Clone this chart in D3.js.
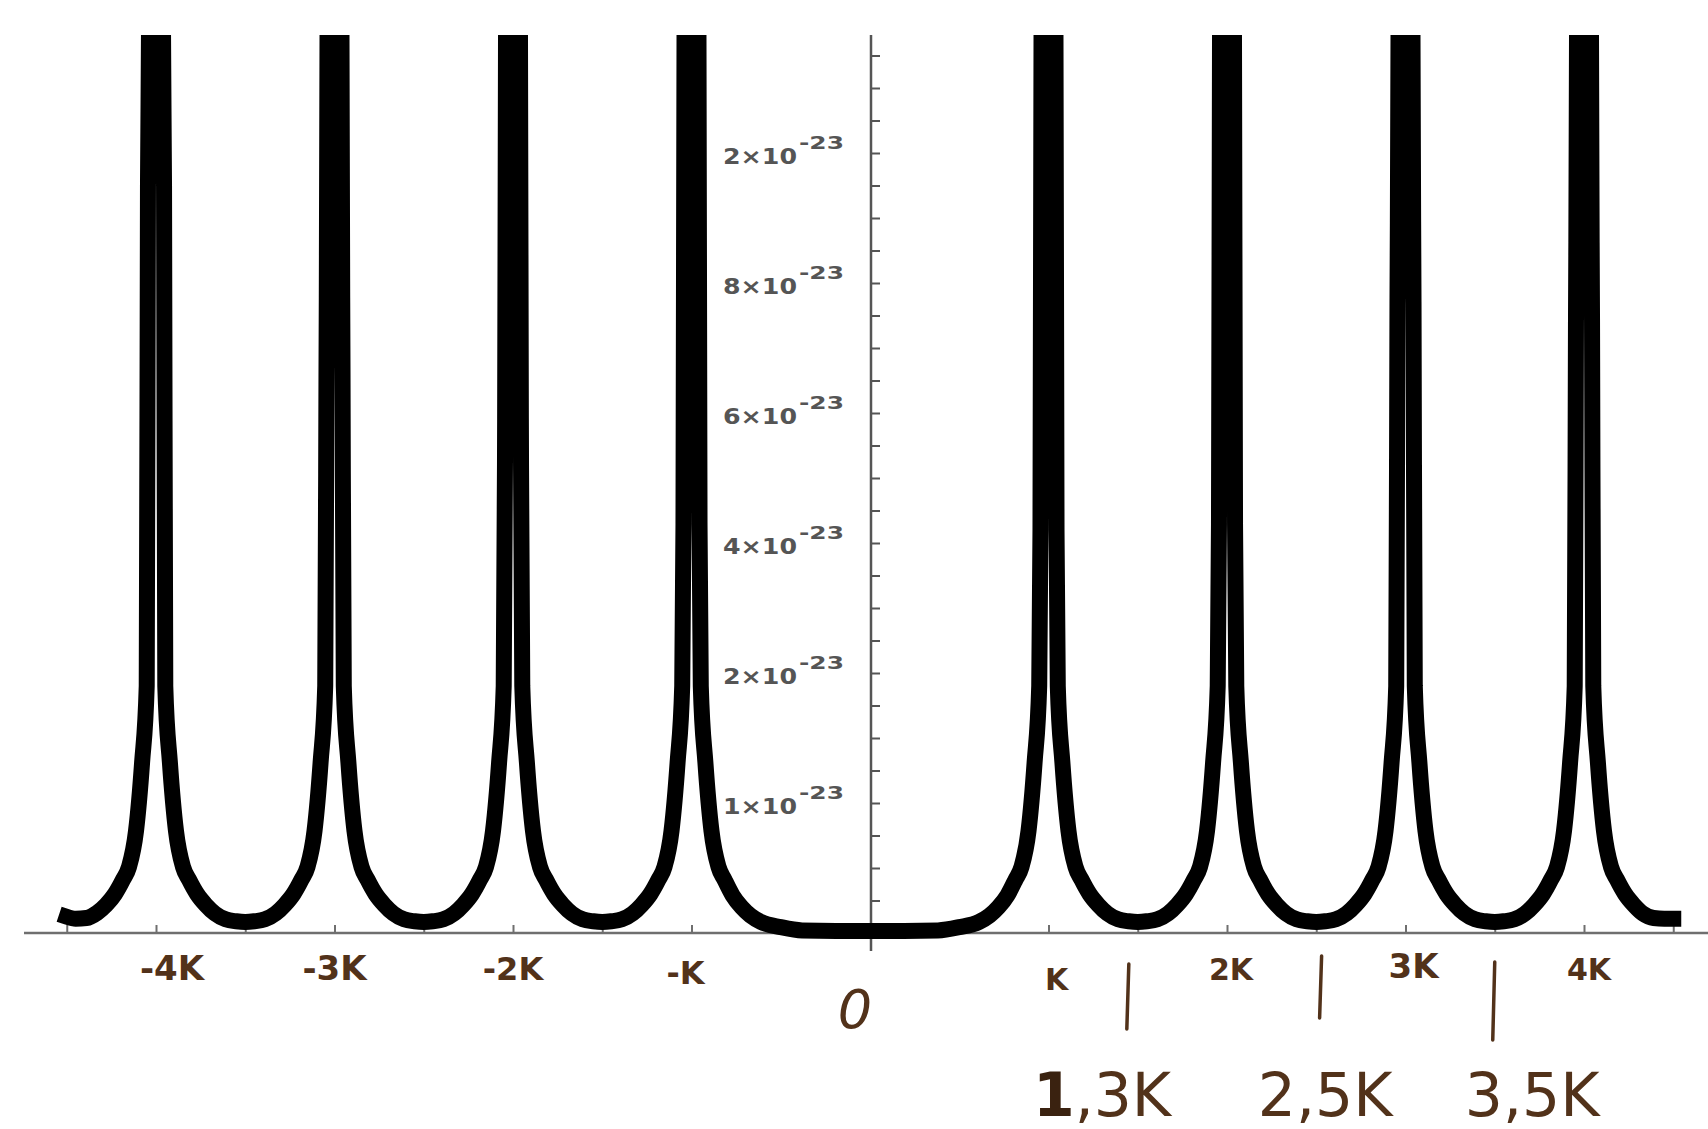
<!DOCTYPE html>
<html><head><meta charset="utf-8">
<script src="https://cdn.jsdelivr.net/npm/d3@7"></script>
<style>html,body{margin:0;padding:0;background:#fff;} svg{display:block;}</style>
</head><body>
<svg id="chart" width="1708" height="1129"></svg>
<script>
// x in units of K, y in units of 1e-24
const curve = [
[-4.5,0.25],[-4.45,0.22],[-4.39,0.23],[-4.33,0.31],[-4.28,0.43],[-4.23,0.60],[-4.185,0.82],[-4.151,1.02],[-4.112,1.57],[-4.078,2.62],[-4.052,3.8],[-4.045,11.5],[-4.039,14],[-4,300],[-3.961,14],[-3.955,11.5],[-3.948,3.8],[-3.922,2.62],[-3.888,1.57],[-3.849,1.02],[-3.815,0.82],[-3.77,0.60],[-3.72,0.43],[-3.67,0.30],[-3.61,0.21],[-3.55,0.18],[-3.5,0.17],
[-3.45,0.18],[-3.39,0.21],[-3.33,0.30],[-3.28,0.43],[-3.23,0.60],[-3.185,0.82],[-3.151,1.02],[-3.112,1.57],[-3.078,2.62],[-3.052,3.8],[-3.045,8.6],[-3.039,14],[-3,300],[-2.961,14],[-2.955,8.6],[-2.948,3.8],[-2.922,2.62],[-2.888,1.57],[-2.849,1.02],[-2.815,0.82],[-2.77,0.60],[-2.72,0.43],[-2.67,0.30],[-2.61,0.21],[-2.55,0.18],[-2.5,0.17],
[-2.45,0.18],[-2.39,0.21],[-2.33,0.30],[-2.28,0.43],[-2.23,0.60],[-2.185,0.82],[-2.151,1.02],[-2.112,1.57],[-2.078,2.62],[-2.052,3.8],[-2.045,7.2],[-2.039,14],[-2,300],[-1.961,14],[-1.955,7.2],[-1.948,3.8],[-1.922,2.62],[-1.888,1.57],[-1.849,1.02],[-1.815,0.82],[-1.77,0.60],[-1.72,0.43],[-1.67,0.30],[-1.61,0.21],[-1.55,0.18],[-1.5,0.17],
[-1.45,0.18],[-1.39,0.21],[-1.33,0.30],[-1.28,0.43],[-1.23,0.60],[-1.185,0.82],[-1.151,1.02],[-1.112,1.57],[-1.078,2.62],[-1.052,3.8],[-1.045,6.3],[-1.039,14],[-1,300],[-0.961,14],[-0.955,6.3],[-0.948,3.8],[-0.922,2.62],[-0.888,1.57],[-0.849,1.02],[-0.815,0.82],[-0.77,0.58],[-0.72,0.40],[-0.67,0.27],[-0.61,0.17],[-0.5,0.09],[-0.38,0.04],
[0,0.03],
[0.38,0.04],[0.5,0.09],[0.61,0.17],[0.67,0.27],[0.72,0.40],[0.77,0.58],[0.815,0.82],[0.849,1.02],[0.888,1.57],[0.922,2.62],[0.948,3.8],[0.955,6.2],[0.961,14],[1,300],[1.039,14],[1.045,6.2],[1.052,3.8],[1.078,2.62],[1.112,1.57],[1.151,1.02],[1.185,0.82],[1.23,0.60],[1.28,0.43],[1.33,0.30],[1.39,0.21],[1.45,0.18],[1.5,0.17],
[1.55,0.18],[1.61,0.21],[1.67,0.30],[1.72,0.43],[1.77,0.60],[1.815,0.82],[1.849,1.02],[1.888,1.57],[1.922,2.62],[1.948,3.8],[1.955,6.3],[1.961,14],[2,300],[2.039,14],[2.045,6.3],[2.052,3.8],[2.078,2.62],[2.112,1.57],[2.151,1.02],[2.185,0.82],[2.23,0.60],[2.28,0.43],[2.33,0.30],[2.39,0.21],[2.45,0.18],[2.5,0.17],
[2.55,0.18],[2.61,0.21],[2.67,0.30],[2.72,0.43],[2.77,0.60],[2.815,0.82],[2.849,1.02],[2.888,1.57],[2.922,2.62],[2.948,3.8],[2.955,9.7],[2.961,14],[3,300],[3.039,14],[3.045,9.7],[3.052,3.8],[3.078,2.62],[3.112,1.57],[3.151,1.02],[3.185,0.82],[3.23,0.60],[3.28,0.43],[3.33,0.30],[3.39,0.21],[3.45,0.18],[3.5,0.17],
[3.55,0.18],[3.61,0.21],[3.67,0.30],[3.72,0.43],[3.77,0.60],[3.815,0.82],[3.849,1.02],[3.888,1.57],[3.922,2.62],[3.948,3.8],[3.955,9.4],[3.961,14],[4,300],[4.039,14],[4.045,9.4],[4.052,3.8],[4.078,2.62],[4.112,1.57],[4.151,1.02],[4.185,0.82],[4.23,0.60],[4.28,0.43],[4.33,0.30],[4.39,0.23],[4.45,0.22],[4.5,0.22]
];
const xTickValues = [-4.5,-4,-3.5,-3,-2.5,-2,-1.5,-1,-0.5,0,0.5,1,1.5,2,2.5,3,3.5,4,4.5];
const xLabelValues = [-4,-3,-2,-1,0,1,2,3,4];
const xLabelTexts = ["-4K","-3K","-2K","-K","0","K","2K","3K","4K"];
const yMajorValues = [2,4,6,8,10,12];
const yLabelMantissa = ["1×10","2×10","4×10","6×10","8×10","2×10"];
const yLabelExponent = "-23";
const yTickValues = [0.5,1,1.5,2,2.5,3,3.5,4,4.5,5,5.5,6,6.5,7,7.5,8,8.5,9,9.5,10,10.5,11,11.5,12,12.5,13,13.5];
const markValues = [1.45, 2.53, 3.5];
const markLabelValues = [1.30, 2.55, 3.71];
const markLabelTexts = ["1,3K","2,5K","3,5K"];

const svg = d3.select("#chart");
const brown = "#52321a";
const x = d3.scaleLinear().domain([-4.5, 4.5]).range([870 - 4.5*178.5, 870 + 4.5*178.5]);
const y = d3.scaleLinear().domain([0, 2]).range([933, 803]);

svg.append("defs").append("clipPath").attr("id","clip")
  .append("rect").attr("x",0).attr("y",35).attr("width",1708).attr("height",1094);

// x axis line
svg.append("line").attr("x1",24).attr("x2",1708).attr("y1",y(0)).attr("y2",y(0))
  .attr("stroke","#6f6f6f").attr("stroke-width",2.5);
const xAxis = d3.axisTop(x).tickValues(xTickValues).tickSize(8).tickSizeOuter(0).tickFormat("");
const gx = svg.append("g").attr("transform",`translate(0,${y(0)})`).call(xAxis);
gx.select(".domain").remove();
gx.selectAll(".tick line").attr("stroke","#6f6f6f").attr("stroke-width",2);

// y axis line
svg.append("line").attr("x1",x(0)+1).attr("x2",x(0)+1).attr("y1",35).attr("y2",951)
  .attr("stroke","#555").attr("stroke-width",2.5);
const yAxis = d3.axisRight(y).tickValues(yTickValues).tickSize(9).tickSizeOuter(0).tickFormat("");
const gy = svg.append("g").attr("transform",`translate(${x(0)+1},0)`).call(yAxis);
gy.select(".domain").remove();
gy.selectAll(".tick line").attr("stroke","#555").attr("stroke-width",2);

// y labels
const yl = svg.append("g").attr("font-family","DejaVu Sans").attr("fill","#555");
yMajorValues.forEach((v,i)=>{
  yl.append("text").attr("x", x(0)-147).attr("y", y(v)+11)
    .attr("font-size",22).attr("font-weight","bold").attr("textLength",74).attr("lengthAdjust","spacingAndGlyphs")
    .text(yLabelMantissa[i]);
  yl.append("text").attr("x", x(0)-71).attr("y", y(v)-4)
    .attr("font-size",17).attr("font-weight","bold").attr("textLength",45).attr("lengthAdjust","spacingAndGlyphs")
    .text(yLabelExponent);
});

// x labels (handwritten style)
const xl = svg.append("g").attr("font-family","DejaVu Sans").attr("fill",brown).attr("text-anchor","middle");
const labelDx = [16,0,0,-6,-15,8,4,8,5];
const labelDy = [980,980,980,984,1028,990,980,978,980];
const labelSize = [34,34,32,32,54,30,30,34,30];
xLabelValues.forEach((v,i)=>{
  xl.append("text").attr("x", x(v)+labelDx[i]).attr("y", labelDy[i])
    .attr("font-size", labelSize[i])
    .attr("font-style", i===4 ? "italic" : "normal")
    .attr("font-weight", i===4 ? "normal" : "bold")
    .text(xLabelTexts[i]);
});

// annotation marks
const markTop = [964,956,962], markBot = [1029,1018,1040];
markValues.forEach((v,i)=>{
  svg.append("line").attr("x1",x(v)).attr("x2",x(v)-2).attr("y1",markTop[i]).attr("y2",markBot[i])
    .attr("stroke",brown).attr("stroke-width",3.5).attr("stroke-linecap","round");
});
markLabelValues.forEach((v,i)=>{
  const t = svg.append("text").attr("x",x(v)).attr("y",1116).attr("text-anchor","middle")
    .attr("font-family","DejaVu Sans").attr("font-size",60).attr("fill",brown);
  if (i === 0) {
    t.append("tspan").attr("font-weight","bold").attr("fill","#3a2210").text(markLabelTexts[i].charAt(0));
    t.append("tspan").text(markLabelTexts[i].slice(1));
  } else {
    t.text(markLabelTexts[i]);
  }
});

// curve
const line = d3.line().x(d=>x(d[0])).y(d=>y(d[1])).curve(d3.curveMonotoneX);
svg.append("path").datum(curve).attr("clip-path","url(#clip)")
  .attr("d", line).attr("fill","none").attr("stroke","#000")
  .attr("stroke-width",16).attr("stroke-linejoin","miter").attr("stroke-linecap","square");
</script>
</body></html>
